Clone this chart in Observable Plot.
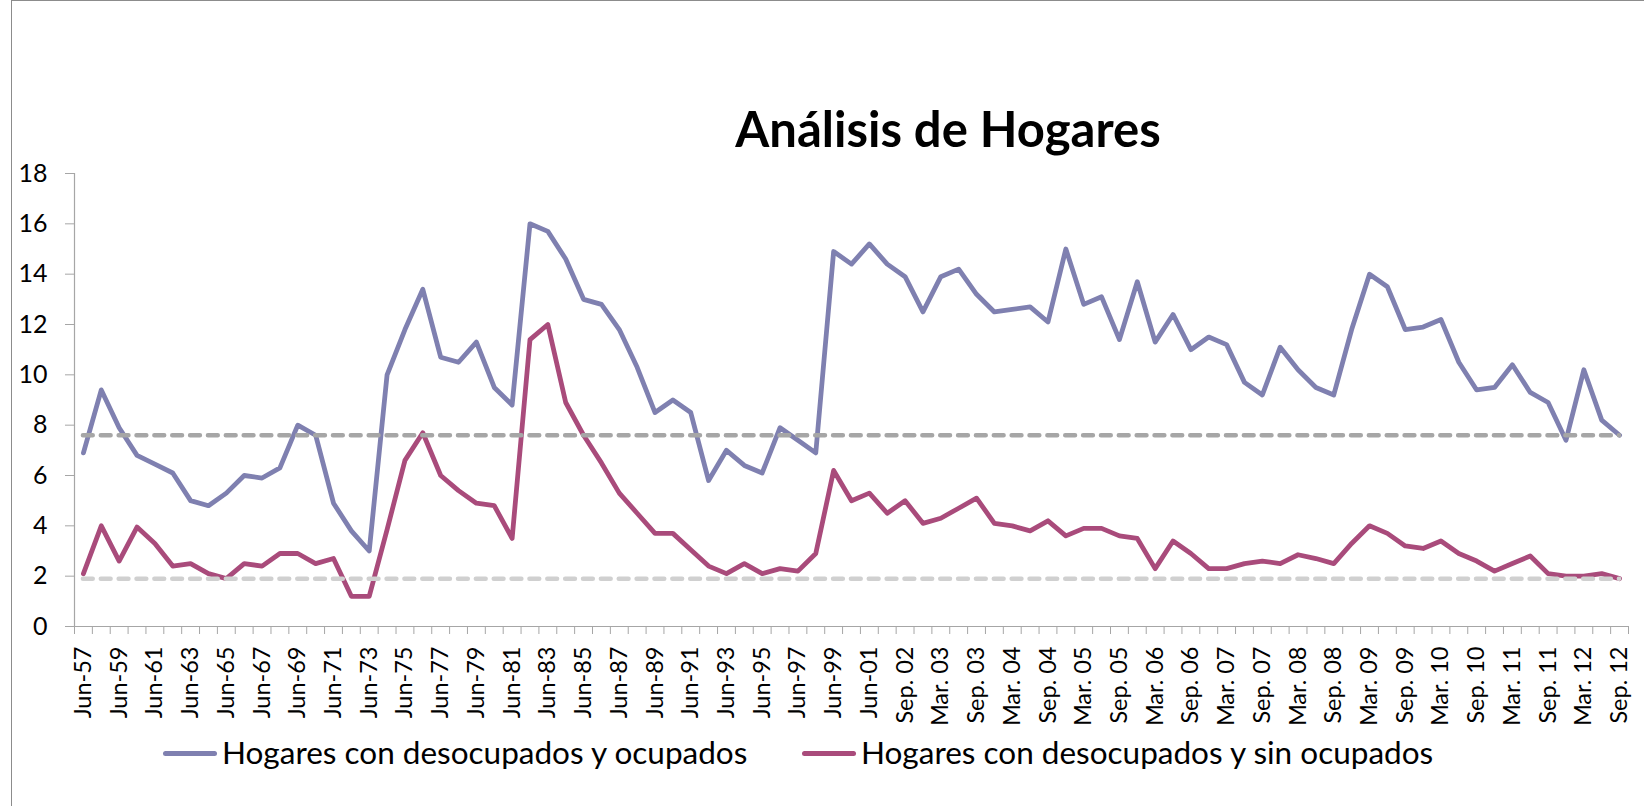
<!DOCTYPE html>
<html>
<head>
<meta charset="utf-8">
<script src="https://cdn.jsdelivr.net/npm/d3@7"></script>
<script src="https://cdn.jsdelivr.net/npm/@observablehq/plot@0.6"></script>
<style>
  html, body { margin: 0; padding: 0; background: #fff; }
  #page { position: relative; width: 1644px; height: 806px; overflow: hidden; font-family: Lato, "Open Sans", sans-serif; }
  #border { position: absolute; left: 11px; top: 0; width: 1700px; height: 900px; border-top: 1.5px solid #8c8c8c; border-left: 1.5px solid #8c8c8c; }
  #title { position: absolute; top: 104px; left: 948px; transform: translateX(-50%); font-size: 49px; line-height: 49px; font-weight: 700; white-space: nowrap; color: #000; }
  #chart { position: absolute; left: 0; top: 162px; }
  .leg { position: absolute; top: 737px; font-size: 31.5px; line-height: 31.5px; white-space: nowrap; color: #000; }
  .sw { position: absolute; height: 5px; width: 54px; top: 751px; border-radius: 3px; }
</style>
</head>
<body>
<div id="page">
  <div id="border"></div>
  <div id="title">Análisis de Hogares</div>
  <div id="chart"></div>
  <div class="sw" id="sw1" style="left:163px;"></div>
  <div class="leg" id="leg1" style="left:222px;"></div>
  <div class="sw" id="sw2" style="left:802px;"></div>
  <div class="leg" id="leg2" style="left:861px;"></div>
</div>
<script>
const categories = [
  "Jun-57","Jun-58","Jun-59","Jun-60","Jun-61","Jun-62","Jun-63","Jun-64","Jun-65","Jun-66",
  "Jun-67","Jun-68","Jun-69","Jun-70","Jun-71","Jun-72","Jun-73","Jun-74","Jun-75","Jun-76",
  "Jun-77","Jun-78","Jun-79","Jun-80","Jun-81","Jun-82","Jun-83","Jun-84","Jun-85","Jun-86",
  "Jun-87","Jun-88","Jun-89","Jun-90","Jun-91","Jun-92","Jun-93","Jun-94","Jun-95","Jun-96",
  "Jun-97","Jun-98","Jun-99","Jun-00","Jun-01",
  "Jun. 02","Sep. 02","Dic. 02","Mar. 03","Jun. 03","Sep. 03","Dic. 03","Mar. 04","Jun. 04","Sep. 04",
  "Dic. 04","Mar. 05","Jun. 05","Sep. 05","Dic. 05","Mar. 06","Jun. 06","Sep. 06","Dic. 06","Mar. 07",
  "Jun. 07","Sep. 07","Dic. 07","Mar. 08","Jun. 08","Sep. 08","Dic. 08","Mar. 09","Jun. 09","Sep. 09",
  "Dic. 09","Mar. 10","Jun. 10","Sep. 10","Dic. 10","Mar. 11","Jun. 11","Sep. 11","Dic. 11","Mar. 12",
  "Jun. 12","Sep. 12"
];
const conDesocupadosYOcupados = [
  6.9, 9.4, 7.9, 6.8, 6.45, 6.1, 5.0, 4.8, 5.3, 6.0,
  5.9, 6.3, 8.0, 7.6, 4.9, 3.8, 3.0, 10.0, 11.8, 13.4,
  10.7, 10.5, 11.3, 9.5, 8.8, 16.0, 15.7, 14.6, 13.0, 12.8,
  11.8, 10.3, 8.5, 9.0, 8.5, 5.8, 7.0, 6.4, 6.1, 7.9,
  7.4, 6.9, 14.9, 14.4, 15.2,
  14.4, 13.9, 12.5, 13.9, 14.2, 13.2, 12.5, 12.6, 12.7, 12.1,
  15.0, 12.8, 13.1, 11.4, 13.7, 11.3, 12.4, 11.0, 11.5, 11.2,
  9.7, 9.2, 11.1, 10.2, 9.5, 9.2, 11.8, 14.0, 13.5, 11.8,
  11.9, 12.2, 10.5, 9.4, 9.5, 10.4, 9.3, 8.9, 7.4, 10.2,
  8.2, 7.6
];
const conDesocupadosSinOcupados = [
  2.1, 4.0, 2.6, 3.95, 3.3, 2.4, 2.5, 2.1, 1.9, 2.5,
  2.4, 2.9, 2.9, 2.5, 2.7, 1.2, 1.2, 3.85, 6.6, 7.7,
  6.0, 5.4, 4.9, 4.8, 3.5, 11.4, 12.0, 8.9, 7.6, 6.5,
  5.3, 4.5, 3.7, 3.7, 3.05, 2.4, 2.1, 2.5, 2.1, 2.3,
  2.2, 2.9, 6.2, 5.0, 5.3,
  4.5, 5.0, 4.1, 4.3, 4.7, 5.1, 4.1, 4.0, 3.8, 4.2,
  3.6, 3.9, 3.9, 3.6, 3.5, 2.3, 3.4, 2.9, 2.3, 2.3,
  2.5, 2.6, 2.5, 2.85, 2.7, 2.5, 3.3, 4.0, 3.7, 3.2,
  3.1, 3.4, 2.9, 2.6, 2.2, 2.5, 2.8, 2.1, 2.0, 2.0,
  2.1, 1.9
];
const promedioConOcupados = 7.6;
const promedioSinOcupados = 1.9;
const yTicks = [0, 2, 4, 6, 8, 10, 12, 14, 16, 18];
const seriesNames = ["Hogares con desocupados y ocupados", "Hogares con desocupados y sin ocupados"];
const seriesColors = ["#7F80B0", "#A94B7B"];
const refColors = ["#A6A6A6", "#D0D0D0"];
const titleText = "Análisis de Hogares";

document.getElementById("title").textContent = titleText;
document.getElementById("leg1").textContent = seriesNames[0];
document.getElementById("leg2").textContent = seriesNames[1];
document.getElementById("sw1").style.background = seriesColors[0];
document.getElementById("sw2").style.background = seriesColors[1];

const rowsA = categories.map((c, i) => ({i, c, v: conDesocupadosYOcupados[i]}));
const rowsB = categories.map((c, i) => ({i, c, v: conDesocupadosSinOcupados[i]}));
const n = categories.length;
const boundaries = d3.range(-0.5, n, 1);
const labelIdx = d3.range(0, n, 2);
const axisGray = "#A6A6A6";

const chart = Plot.plot({
  width: 1644,
  height: 564,
  marginLeft: 74,
  marginRight: 16,
  marginTop: 11,
  marginBottom: 100,
  style: {fontFamily: "Lato, 'Open Sans', sans-serif", background: "transparent", overflow: "visible"},
  x: {type: "linear", domain: [-0.5, n - 0.5], axis: null},
  y: {domain: [0, 18], axis: null},
  marks: [
    Plot.axisX(boundaries, {tickSize: 8, stroke: axisGray, fill: "none", label: null}),
    Plot.axisX(labelIdx, {tickSize: 0, tickPadding: 20, tickRotate: -90, tickFormat: i => categories[i], fontSize: 23.5, fill: "#000", label: null}),
    Plot.axisY(yTicks, {tickSize: 9, stroke: axisGray, fill: "none", label: null}),
    Plot.axisY(yTicks, {tickSize: 0, tickPadding: 27, fontSize: 25, fill: "#000", label: null}),
    Plot.ruleY([0], {stroke: axisGray, strokeWidth: 1.2}),
    Plot.ruleX([-0.5], {y1: 0, y2: 18, stroke: axisGray, strokeWidth: 1.2}),
    Plot.line(rowsA, {x: "i", y: "v", stroke: seriesColors[0], strokeWidth: 4.8, strokeLinejoin: "round"}),
    Plot.line(rowsB, {x: "i", y: "v", stroke: seriesColors[1], strokeWidth: 4.8, strokeLinejoin: "round"}),
    Plot.ruleY([promedioConOcupados], {x1: 0, x2: n - 1, stroke: refColors[0], strokeWidth: 4.5, strokeDasharray: "9.8,8.06", strokeLinecap: "round"}),
    Plot.ruleY([promedioSinOcupados], {x1: 0, x2: n - 1, stroke: refColors[1], strokeWidth: 4.5, strokeDasharray: "9.8,8.06", strokeLinecap: "round"})
  ]
});
document.getElementById("chart").appendChild(chart);
</script>
</body>
</html>
